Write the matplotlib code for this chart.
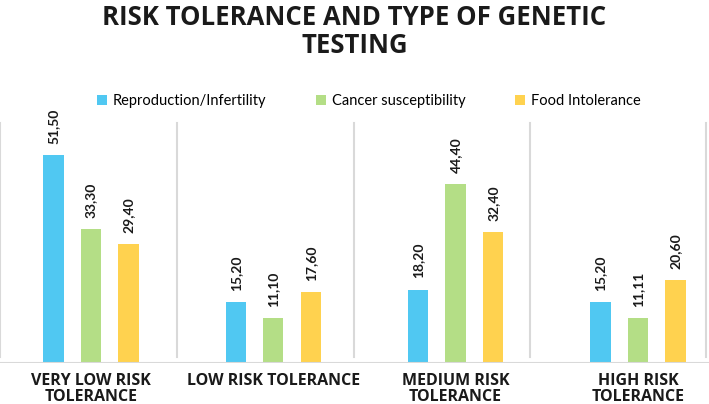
import numpy as np
import matplotlib
matplotlib.use("Agg")
import matplotlib.pyplot as plt

categories = ["VERY LOW RISK\nTOLERANCE", "LOW RISK TOLERANCE", "MEDIUM RISK\nTOLERANCE", "HIGH RISK\nTOLERANCE"]
series_names = ["Reproduction/Infertility", "Cancer susceptibility", "Food Intolerance"]
reproduction = [51.50, 15.20, 18.20, 15.20]
cancer = [33.30, 11.10, 44.40, 11.11]
food = [29.40, 17.60, 32.40, 20.60]

colors = ["#50C8F2", "#B4DE86", "#FFD24F"]
grey = "#D9D9D9"

plt.rcParams["font.family"] = ["Lato", "DejaVu Sans"]

fig = plt.figure(figsize=(7.09, 4.04), dpi=100)
ax = fig.add_axes([0, 0.1015, 1, 0.599])

x = np.arange(len(categories))
width = 0.112
step = 0.206
for i, (vals, name) in enumerate(zip([reproduction, cancer, food], series_names)):
    b = ax.bar(x + (i - 1) * step, vals, width, color=colors[i], label=name, zorder=3)
    for rect, v in zip(b, vals):
        ax.annotate(f"{v:.2f}".replace(".", ","),
                    (rect.get_x() + rect.get_width() / 2, rect.get_height()),
                    xytext=(0, 8), textcoords="offset points",
                    rotation=90, ha="center", va="bottom",
                    fontsize=10, fontweight="bold", color="#1a1a1a")

# separators between categories
for sx in [-0.497, 0.474, 1.444, 2.41, 3.376]:
    ax.plot([sx, sx], [1.5, 59.5], color=grey, lw=1.5, zorder=1)

ax.set_xlim(-0.499, 3.39)
ax.set_ylim(0, 60)
ax.axhline(0, color=grey, lw=1.5, zorder=4)
for s in ax.spines.values():
    s.set_visible(False)
ax.set_yticks([])
ax.set_xticks(x)
ax.set_xticklabels(categories, fontsize=11.5, fontweight="bold", color="#1a1a1a",
                   linespacing=1.0, family=["Open Sans", "DejaVu Sans"])
ax.tick_params(axis="x", length=0, pad=7)

fig.text(0.5, 0.922, "RISK TOLERANCE AND TYPE OF GENETIC\nTESTING", ha="center", va="center",
         fontsize=18.5, fontweight="bold", color="#1a1a1a", linespacing=1.08,
         family=["Open Sans", "DejaVu Sans"])

fig.legend(loc="center", bbox_to_anchor=(0.52, 0.749), ncol=3, frameon=False,
           fontsize=10.5, handlelength=0.7, handleheight=0.7, handletextpad=0.4,
           columnspacing=3.4)

fig.savefig("out.png", dpi=100)
